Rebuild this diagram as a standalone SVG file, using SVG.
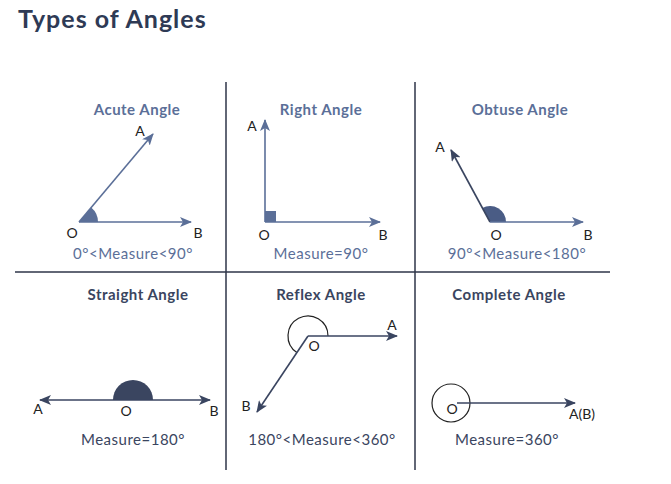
<svg xmlns="http://www.w3.org/2000/svg" width="671" height="484" viewBox="0 0 671 484">
<style>
text{font-family:"Lato","Noto Sans",sans-serif;}
.ttl{font-size:15px;font-weight:bold;text-anchor:middle;letter-spacing:0.5px}
.top{fill:#5b6f98}
.bot{fill:#3a4560}
.lbl{font-size:14px;fill:#222;text-anchor:middle}
.ms{font-size:15px;text-anchor:middle;letter-spacing:0.5px}
.ray1{stroke:#5b6f98;stroke-width:1.6;fill:none}
.ray2{stroke:#3a4560;stroke-width:1.6;fill:none}
.grid{stroke:#2e3548;stroke-width:1.5}
</style>
<defs>
<marker id="a1" viewBox="0 0 12 10" refX="11" refY="5" markerWidth="12" markerHeight="10" markerUnits="userSpaceOnUse" orient="auto-start-reverse"><path d="M0,0 L12,5 L0,10 L3,5 Z" fill="#5b6f98"/></marker>
<marker id="a2" viewBox="0 0 12 10" refX="11" refY="5" markerWidth="12" markerHeight="10" markerUnits="userSpaceOnUse" orient="auto-start-reverse"><path d="M0,0 L12,5 L0,10 L3,5 Z" fill="#3a4560"/></marker>
</defs>
<rect width="671" height="484" fill="#fff"/>
<text x="18" y="28" style="font-size:25px;font-weight:bold;fill:#2e3a55;letter-spacing:1px">Types of Angles</text>
<g id="grid">
<line class="grid" x1="226" y1="82" x2="226" y2="470"/>
<line class="grid" x1="415" y1="82" x2="415" y2="470"/>
<line class="grid" x1="15" y1="272" x2="610" y2="272"/>
</g>
<g id="acute">
<text class="ttl top" x="137" y="115">Acute Angle</text>
<path d="M79,222 L98,222 A19,19 0 0 0 91.2,207.4 Z" fill="#5b6f98"/>
<text class="lbl" x="140" y="136">A</text><text class="lbl" x="72" y="238">O</text><text class="lbl" x="198" y="238">B</text>
<text class="ms top" x="133" y="259">0°&lt;Measure&lt;90°</text>
</g>
<g id="right">
<text class="ttl top" x="321" y="115">Right Angle</text>
<rect x="265" y="211" width="11" height="11" fill="#5b6f98"/>
<text class="lbl" x="252" y="131">A</text><text class="lbl" x="264" y="240">O</text><text class="lbl" x="383" y="240">B</text>
<text class="ms top" x="321" y="259">Measure=90°</text>
</g>
<g id="obtuse">
<text class="ttl top" x="520" y="115">Obtuse Angle</text>
<path d="M490,222 L506,222 A16,16 0 0 0 482.4,207.9 Z" fill="#4a5c85"/>
<text class="lbl" x="440" y="152">A</text><text class="lbl" x="496" y="240">O</text><text class="lbl" x="588" y="240">B</text>
<text class="ms top" x="517" y="259">90°&lt;Measure&lt;180°</text>
</g>
<g id="straight">
<text class="ttl bot" x="138" y="300">Straight Angle</text>
<path d="M113,400 A20,20 0 0 1 153,400 Z" fill="#3a4560"/>
<text class="lbl" x="38" y="414">A</text><text class="lbl" x="126" y="416">O</text><text class="lbl" x="214" y="416">B</text>
<text class="ms bot" x="133" y="445">Measure=180°</text>
</g>
<g id="reflex">
<text class="ttl bot" x="321" y="300">Reflex Angle</text>
<path d="M296.9,352.6 A20,20 0 1 1 328,336" fill="none" stroke="#222" stroke-width="1.2"/>
<text class="lbl" x="392" y="330">A</text><text class="lbl" x="314" y="351">O</text><text class="lbl" x="246" y="411">B</text>
<text class="ms bot" x="322" y="445">180°&lt;Measure&lt;360°</text>
</g>
<g id="complete">
<text class="ttl bot" x="509" y="300">Complete Angle</text>
<circle cx="451" cy="403" r="19" fill="none" stroke="#222" stroke-width="1.2"/>
<text class="lbl" x="452" y="414">O</text><text class="lbl" x="582" y="419">A(B)</text>
<text class="ms bot" x="507" y="445">Measure=360°</text>
</g>
<g id="connectors">
<line class="ray1" x1="79" y1="222" x2="153" y2="134" marker-end="url(#a1)"/>
<line class="ray1" x1="79" y1="222" x2="191" y2="222" marker-end="url(#a1)"/>
<line class="ray1" x1="265" y1="222" x2="265" y2="120" marker-end="url(#a1)"/>
<line class="ray1" x1="265" y1="222" x2="380" y2="222" marker-end="url(#a1)"/>
<line class="ray2" x1="490" y1="222" x2="451" y2="150" marker-end="url(#a2)"/>
<line class="ray1" x1="490" y1="222" x2="583" y2="222" marker-end="url(#a1)"/>
<line class="ray2" x1="40" y1="400" x2="210" y2="400" marker-start="url(#a2)" marker-end="url(#a2)"/>
<line class="ray2" x1="308" y1="336" x2="397" y2="336" marker-end="url(#a2)"/>
<line class="ray2" x1="308" y1="336" x2="257" y2="412" marker-end="url(#a2)"/>
<line class="ray2" x1="457" y1="403" x2="575" y2="403" marker-end="url(#a2)"/>
</g>
</svg>
